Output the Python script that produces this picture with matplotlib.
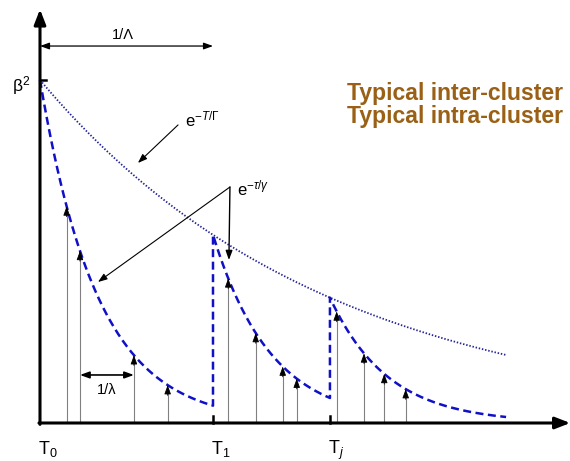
import numpy as np
import matplotlib
matplotlib.use("Agg")
import matplotlib.pyplot as plt

plt.rcParams['font.family'] = ['Liberation Sans', 'DejaVu Sans']
plt.rcParams['mathtext.fontset'] = 'custom'
plt.rcParams['mathtext.rm'] = 'Liberation Sans'
plt.rcParams['mathtext.it'] = 'Liberation Sans:italic'
plt.rcParams['mathtext.bf'] = 'Liberation Sans:bold'

# ---- data (time in units of T1, amplitude in units of beta^2) ----
beta2 = 1.0
cluster_starts = [0.0, 1.0, 1.676]        # T0, T1, Tj
t_end = 2.694
Gamma = 1.665                              # inter-cluster decay
gamma = 0.335                              # intra-cluster decay
events = [[0.154, 0.231, 0.543, 0.738],
          [1.088, 1.247, 1.403, 1.484],
          [1.715, 1.873, 1.990, 2.114]]
cluster_labels = ['T$_0$', 'T$_1$', 'T$_j$']
legend_lines = ['Typical inter-cluster', 'Typical intra-cluster']

BLUE = '#1010c8'
NAVY = '#23239a'
BROWN = '#9a6015'

fig = plt.figure(figsize=(5.7, 4.61), dpi=100)
ax = fig.add_axes([0, 0, 1, 1])
ax.set_xlim(-0.2312, 3.0636)
ax.set_ylim(-0.1108, 1.2332)
ax.axis('off')

# inter-cluster envelope (dotted)
t_env = np.linspace(0, t_end, 400)
ax.plot(t_env, beta2 * np.exp(-t_env / Gamma), color=NAVY, lw=1.3,
        dashes=(0.8, 1.0))

# intra-cluster decays (dashed), with jumps at cluster arrivals
bounds = cluster_starts + [t_end]
xs, ys = [], []
for k, T in enumerate(cluster_starts):
    A = beta2 * np.exp(-T / Gamma)
    t = np.linspace(T, bounds[k + 1], 200)
    xs.append(t)
    ys.append(A * np.exp(-(t - T) / gamma))
xx = np.concatenate(xs)
yy = np.concatenate(ys)
ax.plot(xx, yy, color=BLUE, lw=1.8, dashes=(3.2, 1.8))

# ray arrivals
for k, T in enumerate(cluster_starts):
    A = beta2 * np.exp(-T / Gamma)
    for t in events[k]:
        h = A * np.exp(-(t - T) / gamma)
        ax.plot([t, t], [0, h - 0.01], color='#808080', lw=0.8)
        ax.annotate('', xy=(t, h), xytext=(t, h - 0.03),
                    arrowprops=dict(arrowstyle='-|>,head_length=0.55,head_width=0.2',
                                    color='black', lw=0.6, shrinkA=0, shrinkB=0))

# axes with arrows
ax.annotate('', xy=(0, 1.206), xytext=(0, -0.004),
            arrowprops=dict(arrowstyle='-|>,head_length=0.9,head_width=0.35',
                            color='black', lw=2.2, shrinkA=0, shrinkB=0))
ax.annotate('', xy=(3.065, 0), xytext=(-0.006, 0),
            arrowprops=dict(arrowstyle='-|>,head_length=0.9,head_width=0.35',
                            color='black', lw=2.2, shrinkA=0, shrinkB=0))

# ticks
ax.plot([0, 0.035], [beta2, beta2], color='black', lw=1.8)
for T in cluster_starts[1:]:
    ax.plot([T, T], [0, 0.02], color='black', lw=1.8)

# labels
ax.text(-0.055, 0.985, r'$\mathrm{\beta}^2$', ha='right', va='center', fontsize=12.5)
for T, lab in zip(cluster_starts, cluster_labels):
    ax.text(T - 0.01, -0.047, lab, ha='left', va='top', fontsize=13)

# 1/Lambda
ax.annotate('', xy=(0, 1.099), xytext=(cluster_starts[1], 1.099),
            arrowprops=dict(arrowstyle='<|-|>,head_length=0.55,head_width=0.2',
                            color='black', lw=0.9, shrinkA=0, shrinkB=0))
ax.text(0.48, 1.13, '1/Λ', ha='center', va='center', fontsize=10.5)

# 1/lambda
ax.annotate('', xy=(events[0][1], 0.140), xytext=(events[0][2], 0.140),
            arrowprops=dict(arrowstyle='<|-|>,head_length=0.55,head_width=0.2',
                            color='black', lw=1.2, shrinkA=0, shrinkB=0))
ax.text(0.387, 0.097, '1/λ', ha='center', va='center', fontsize=10.5)

# e^{-T/Gamma}
ax.text(0.838, 0.885, r'e$^{-T/\mathrm{\Gamma}}$', ha='left', va='center', fontsize=12)
ax.annotate('', xy=(0.566, 0.758), xytext=(0.798, 0.869),
            arrowprops=dict(arrowstyle='-|>,head_length=0.55,head_width=0.2',
                            color='black', lw=0.8, shrinkA=0, shrinkB=0))

# e^{-tau/gamma}
ax.text(1.139, 0.685, r'e$^{-\tau/\gamma}$', ha='left', va='center', fontsize=12)
corner = (1.098, 0.688)
ax.annotate('', xy=(0.335, 0.411), xytext=corner,
            arrowprops=dict(arrowstyle='-|>,head_length=0.55,head_width=0.2',
                            color='black', lw=0.8, shrinkA=0, shrinkB=0))
ax.annotate('', xy=(1.092, 0.475), xytext=corner,
            arrowprops=dict(arrowstyle='-|>,head_length=0.55,head_width=0.2',
                            color='black', lw=1.0, shrinkA=0, shrinkB=0))

# legend text
for i, line in enumerate(legend_lines):
    ax.text(1.775, 0.942 - i * 0.066, line, ha='left', va='baseline',
            fontsize=16.6, fontweight='bold', color=BROWN)

fig.savefig('out.png', dpi=100)
